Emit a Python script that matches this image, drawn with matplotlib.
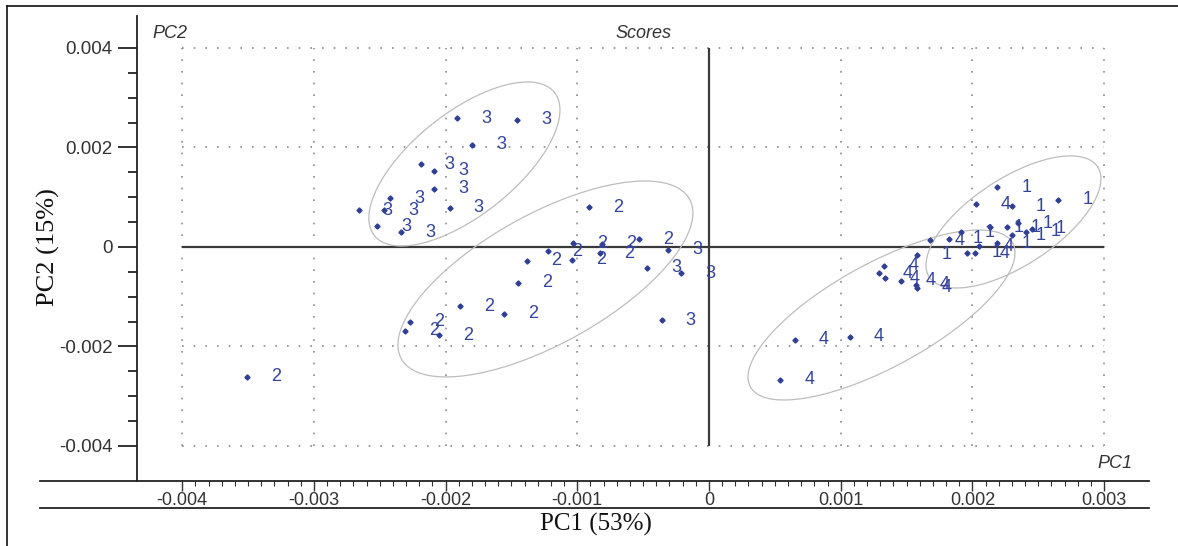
import numpy as np
import matplotlib
matplotlib.use("Agg")
import matplotlib.pyplot as plt
from matplotlib.lines import Line2D
from matplotlib.ticker import FixedLocator

# ---------------- data ----------------
g1_pc1 = [0.00219, 0.00230, 0.00265, 0.00213, 0.00226, 0.00235, 0.00245, 0.00241,
          0.00230, 0.00219, 0.00191, 0.00182, 0.00158, 0.00196]
g1_pc2 = [0.00120, 0.00082, 0.00095, 0.00040, 0.00040, 0.00048, 0.00037, 0.00031,
          0.00024, 0.00008, 0.00030, 0.00017, -0.00016, -0.00012]

g2_pc1 = [-0.00351, -0.00091, -0.00122, -0.00138, -0.00145, -0.00189, -0.00156, -0.00227,
          -0.00231, -0.00205, -0.00103, -0.00104, -0.00081, -0.00083, -0.00053]
g2_pc2 = [-0.00261, 0.00080, -0.00009, -0.00028, -0.00072, -0.00119, -0.00134, -0.00150,
          -0.00168, -0.00177, 0.00008, -0.00026, 0.00006, -0.00013, 0.00016]

g3_pc1 = [-0.00191, -0.00146, -0.00180, -0.00219, -0.00209, -0.00209, -0.00197, -0.00242,
          -0.00266, -0.00247, -0.00252, -0.00234, -0.00047, -0.00021, -0.00036, -0.00031]
g3_pc2 = [0.00259, 0.00256, 0.00206, 0.00166, 0.00153, 0.00117, 0.00079, 0.00098,
          0.00074, 0.00074, 0.00042, 0.00030, -0.00042, -0.00053, -0.00147, -0.00006]

g4_pc1 = [0.00203, 0.00168, 0.00202, 0.00205, 0.00133, 0.00129, 0.00134, 0.00146,
          0.00157, 0.00158, 0.00065, 0.00107, 0.00054]
g4_pc2 = [0.00086, 0.00014, -0.00013, 0.00001, -0.00038, -0.00053, -0.00063, -0.00068,
          -0.00076, -0.00082, -0.00186, -0.00180, -0.00267]

groups = ["1", "2", "3", "4"]
group_pc1 = [g1_pc1, g2_pc1, g3_pc1, g4_pc1]
group_pc2 = [g1_pc2, g2_pc2, g3_pc2, g4_pc2]

# ellipses: centre, major semi-axis vector, minor semi-axis vector (data units)
ell_center = [(0.002312, 0.000503), (-0.001242, -0.000643), (-0.001857, 0.001668), (0.001310, -0.001367)]
ell_major = [(0.000639, 0.001107), (0.001094, 0.001606), (0.000684, 0.001437), (0.000996, 0.001443)]
ell_minor = [(-0.000181, 0.000733), (-0.000239, 0.001139), (-0.000242, 0.000808), (-0.000189, 0.000915)]

xticks = [-0.004, -0.003, -0.002, -0.001, 0, 0.001, 0.002, 0.003]
xticklabels = ["-0.004", "-0.003", "-0.002", "-0.001", "0", "0.001", "0.002", "0.003"]
x_minor_step = 0.0001
yticks = [0.004, 0.002, 0, -0.002, -0.004]
yticklabels = ["0.004", "0.002", "0", "-0.002", "-0.004"]
y_minor_step = 0.0005
grid_x = [-0.004, -0.003, -0.002, -0.001, 0.001, 0.002, 0.003]
grid_y = [0.004, 0.002, -0.002, -0.004]

# ---------------- figure ----------------
W, H = 1178, 546
fig = plt.figure(figsize=(W / 100, H / 100), dpi=100)
plt.rcParams["font.family"] = ["Liberation Sans", "DejaVu Sans"]

def fx(px):
    return px / W

def fy(py):
    return 1 - py / H

ax = fig.add_axes([fx(137), fy(481), (1149 - 137) / W, (481 - 16) / H])
ax.set_xlim(-0.004343, 0.003341)
ax.set_ylim(-0.004704, 0.004643)

for s in ["top", "right", "bottom"]:
    ax.spines[s].set_visible(False)
ax.spines["left"].set_color("#222222")
ax.spines["left"].set_linewidth(1.3)

ax.xaxis.set_major_locator(FixedLocator(xticks))
ax.set_xticklabels(xticklabels)
ax.xaxis.set_minor_locator(FixedLocator(np.arange(xticks[0], xticks[-1] + 1e-9, x_minor_step)))
ax.yaxis.set_major_locator(FixedLocator(yticks))
ax.set_yticklabels(yticklabels)
ax.yaxis.set_minor_locator(FixedLocator(np.arange(yticks[-1], yticks[0] + 1e-9, y_minor_step)))

ax.tick_params(axis="x", which="major", direction="out", length=7, width=1.0,
               color="#333333", labelsize=13, labelcolor="#333333", pad=1)
ax.tick_params(axis="x", which="minor", direction="out", length=3.5, width=0.8, color="#333333")
ax.tick_params(axis="y", which="major", direction="out", length=14, width=1.3,
               color="#222222", labelsize=13.5, labelcolor="#333333", pad=3.5)
ax.tick_params(axis="y", which="minor", direction="out", length=6.5, width=1.3, color="#222222")

# dotted grid
dot = (0, (1, 6))
ax.vlines(grid_x, -0.004, 0.004, colors="#8a8a8a", linewidth=1.2, linestyles=[dot], zorder=1)
ax.hlines(grid_y, -0.004, 0.003, colors="#8a8a8a", linewidth=1.2, linestyles=[dot], zorder=1)

# axis cross
ax.vlines([0], -0.004, 0.004, colors="#3a3a3a", linewidth=1.6, zorder=2)
ax.hlines([0], -0.004, 0.003, colors="#3a3a3a", linewidth=1.6, zorder=2)

# ellipses
t = np.linspace(0, 2 * np.pi, 300)
for c, u, v in zip(ell_center, ell_major, ell_minor):
    ex = c[0] + u[0] * np.cos(t) + v[0] * np.sin(t)
    ey = c[1] + u[1] * np.cos(t) + v[1] * np.sin(t)
    ax.plot(ex, ey, color="#bdbdbd", linewidth=0.9, zorder=2)

# points and labels
pt_color = "#2f3f94"
for lab, xs, ys in zip(groups, group_pc1, group_pc2):
    ax.plot(xs, ys, linestyle="none", marker="D", markersize=2.6, color=pt_color, zorder=4)
    for x, y in zip(xs, ys):
        ax.annotate(lab, (x, y), xytext=(21, 0), textcoords="offset points",
                    ha="center", va="center", fontsize=13, color="#34449c", zorder=5)

# in-plot italic captions
fig.text(fx(152), fy(33), "PC2", style="italic", fontsize=13, color="#333333", va="center", ha="left")
fig.text(fx(643), fy(33), "Scores", style="italic", fontsize=13, color="#333333", va="center", ha="center")
fig.text(fx(1115), fy(463), "PC1", style="italic", fontsize=13, color="#333333", va="center", ha="center")

# extended axis lines at bottom
fig.add_artist(Line2D([fx(40), fx(1149)], [fy(481), fy(481)], color="#222222", linewidth=1.3))
fig.add_artist(Line2D([fx(40), fx(1149)], [fy(508), fy(508)], color="#222222", linewidth=1.3))

# outer frame
fig.add_artist(Line2D([fx(7), fx(7)], [fy(6), 0], color="#111111", linewidth=1.2))
fig.add_artist(Line2D([fx(7), 1], [fy(6), fy(6)], color="#111111", linewidth=1.2))

# axis titles (serif)
fig.text(fx(596), fy(524), "PC1 (53%)", family=["Liberation Serif", "DejaVu Serif"],
         fontsize=18, ha="center", va="center", color="#111111")
fig.text(fx(48), fy(247), "PC2 (15%)", family=["Liberation Serif", "DejaVu Serif"],
         fontsize=19, ha="center", va="center", rotation=90, color="#111111")

fig.savefig("out.png", dpi=100)
